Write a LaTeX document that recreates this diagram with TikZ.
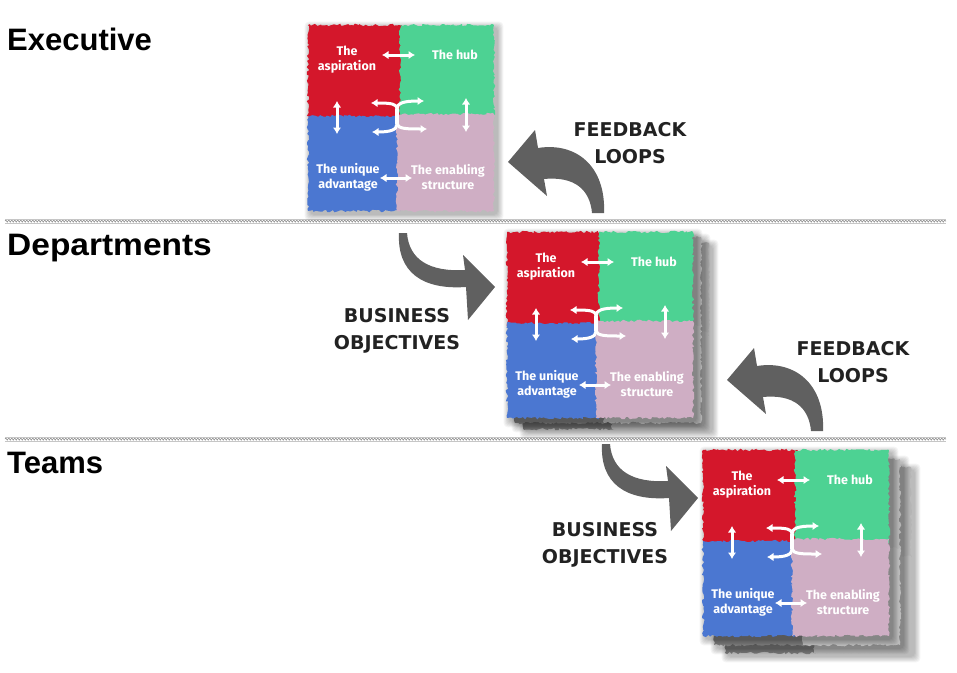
\documentclass[tikz,border=0pt]{standalone}
\usepackage{fontspec}
\usetikzlibrary{arrows.meta,decorations.pathmorphing}
\setmainfont{Liberation Sans}
\newfontfamily\headfont{Liberation Sans}
\newfontfamily\quadfont{Fira Sans}
\newfontfamily\handfont{DejaVu Sans}
\definecolor{qred}{HTML}{D4172B}
\definecolor{qgreen}{HTML}{4DD293}
\definecolor{qblue}{HTML}{4B77D1}
\definecolor{qpink}{HTML}{CFAEC4}
\definecolor{arrowgray}{HTML}{606060}
\definecolor{ink}{HTML}{222222}
\definecolor{sdark}{HTML}{6E6E6E}
\definecolor{slight}{HTML}{B4B4B4}
\tikzset{
  jag/.style={decorate, decoration={random steps,segment length=2.2pt,amplitude=1.3pt}},
  quad/.style={jag, inner sep=0pt, outer sep=0pt, anchor=north west},
  qtext/.style={text=white, font=\quadfont\bfseries\fontsize{12.5}{15}\selectfont, align=center, inner sep=0pt},
  link/.style={draw=white, line width=3pt, {Latex[length=6.5pt,width=8.5pt]}-{Latex[length=6.5pt,width=8.5pt]}},
  halflink/.style={draw=white, line width=3pt, -{Latex[length=6.5pt,width=8.5pt]}},
  stem/.style={draw=white, line width=3.4pt},
  heading/.style={font=\headfont\bfseries\fontsize{31}{31}\selectfont, anchor=base west, inner sep=0pt, text=black},
  hand/.style={font=\handfont\bfseries\fontsize{19}{27}\selectfont, text=ink, align=center, inner sep=0pt},
  bigarrow/.style={fill=arrowgray},
  sepline/.style={draw=gray, line width=0.5pt, decorate, decoration={zigzag,segment length=3pt,amplitude=1.2pt}},
  sepedge/.style={draw=gray!45, line width=0.4pt}
}
\newcommand\softshadow[4]{%
  \foreach \i in {1,...,7}
    \fill[black,opacity=0.045,rounded corners=4pt] (#1+3-\i*0.9,#2+3-\i*0.9) rectangle (#3+3+\i*0.9,#4+3+\i*0.9);}
\newcommand\backsheet[2]{%
  \begin{scope}[shift={(#1,#2)}]
    \softshadow{0}{0}{186}{186}
    \fill[sdark,jag] (0,0) rectangle (94,94);
    \fill[slight,jag] (92,0) rectangle (186,93);
    \fill[sdark!90,jag] (0,91) rectangle (92,186);
    \fill[slight!90!white,jag] (89,89) rectangle (186,186);
  \end{scope}}
\newcommand\quadgrid[3]{%
  \begin{scope}[shift={(#2,#3)}]
    \softshadow{0}{0}{186}{186}
    \node[quad, fill=qred, minimum width=94pt, minimum height=94pt] (#1asp) at (0,0) {};
    \node[quad, fill=qgreen, minimum width=94pt, minimum height=93pt] (#1hub) at (92,0) {};
    \node[quad, fill=qblue, minimum width=92pt, minimum height=95pt] (#1uni) at (0,91) {};
    \node[quad, fill=qpink, minimum width=97pt, minimum height=97pt] (#1ena) at (89,89) {};
    \node[qtext] (#1aspt) at (39,35) {The\\aspiration};
    \node[qtext] (#1hubt) at (147,30) {The hub};
    \node[qtext] (#1unit) at (40,152) {The unique\\advantage};
    \node[qtext] (#1enat) at (140,152) {The enabling\\structure};
    \coordinate (#1ta) at (74,30); \coordinate (#1tb) at (107,30);
    \coordinate (#1la) at (29,76); \coordinate (#1lb) at (29,109);
    \coordinate (#1ra) at (158,73); \coordinate (#1rb) at (158,107);
    \coordinate (#1ba) at (72,153); \coordinate (#1bb) at (104,153);
    \coordinate (#1mu) at (89,84); \coordinate (#1md) at (89,99);
    \coordinate (#1c1) at (63,78); \coordinate (#1c2) at (116,76);
    \coordinate (#1c3) at (64,107); \coordinate (#1c4) at (119,104);
    \draw[link] (#1ta) -- (#1tb);
    \draw[link] (#1la) -- (#1lb);
    \draw[link] (#1ra) -- (#1rb);
    \draw[link] (#1ba) -- (#1bb);
    \draw[stem] (#1mu) -- (#1md);
    \draw[halflink] (#1mu) .. controls (89,79) and (84,78) .. (#1c1);
    \draw[halflink] (#1mu) .. controls (89,78) and (96,76) .. (#1c2);
    \draw[halflink] (#1md) .. controls (89,105) and (82,107) .. (#1c3);
    \draw[halflink] (#1md) .. controls (90,104) and (100,104) .. (#1c4);
  \end{scope}}
\newcommand\feedbackarrow[2]{%
  \fill[bigarrow, shift={(#1,#2)}] (508,162) -- (535,130) -- (538,148)
    .. controls (575,142) and (606,165) .. (604,213) -- (592,213)
    .. controls (590,190) and (575,176) .. (544,179) -- (547,196) -- cycle;}
\newcommand\businessarrow[2]{%
  \fill[bigarrow, shift={(#1,#2)}] (399,233)
    .. controls (397,272) and (422,290) .. (466,287) -- (468,320) -- (495,287)
    -- (463,255) -- (465,270) .. controls (430,272) and (409,260) .. (407,233) -- cycle;}
\begin{document}
\begin{tikzpicture}[x=1pt,y=-1pt]
\useasboundingbox (0,0) rectangle (957,672);
\pgfmathsetseed{7}
% separators
\coordinate (s1a) at (5,221); \coordinate (s1b) at (946,221);
\coordinate (s2a) at (5,439); \coordinate (s2b) at (946,439);
\draw[sepline] (s1a) -- (s1b);
\draw[sepedge] ([yshift=1.8pt]s1a) -- ([yshift=1.8pt]s1b);
\draw[sepedge] ([yshift=-1.8pt]s1a) -- ([yshift=-1.8pt]s1b);
\draw[sepline] (s2a) -- (s2b);
\draw[sepedge] ([yshift=1.8pt]s2a) -- ([yshift=1.8pt]s2b);
\draw[sepedge] ([yshift=-1.8pt]s2a) -- ([yshift=-1.8pt]s2b);
% headings
\node[heading] (hexec) at (7,50) {Executive};
\node[heading, xscale=1.08] (hdept) at (7,255) {Departments};
\node[heading] (hteam) at (7,473) {Teams};
% grid 1
\quadgrid{a}{308}{25}
% grid 2 with stack
\backsheet{523}{243}
\backsheet{515}{237}
\quadgrid{b}{507}{232}
% grid 3 with stack
\backsheet{725}{467}
\backsheet{714}{459}
\quadgrid{c}{703}{450}
% big arrows
\feedbackarrow{0}{0}
\feedbackarrow{219}{218}
\businessarrow{0}{0}
\businessarrow{203}{211}
% hand labels
\node[hand] (fb1) at (630,143) {FEEDBACK\\LOOPS};
\node[hand] (fb2) at (853,362) {FEEDBACK\\LOOPS};
\node[hand] (bo1) at (397,331) {BUSINESS\\OBJECTIVES};
\node[hand] (bo2) at (605,545) {BUSINESS\\OBJECTIVES};
\end{tikzpicture}
\end{document}
